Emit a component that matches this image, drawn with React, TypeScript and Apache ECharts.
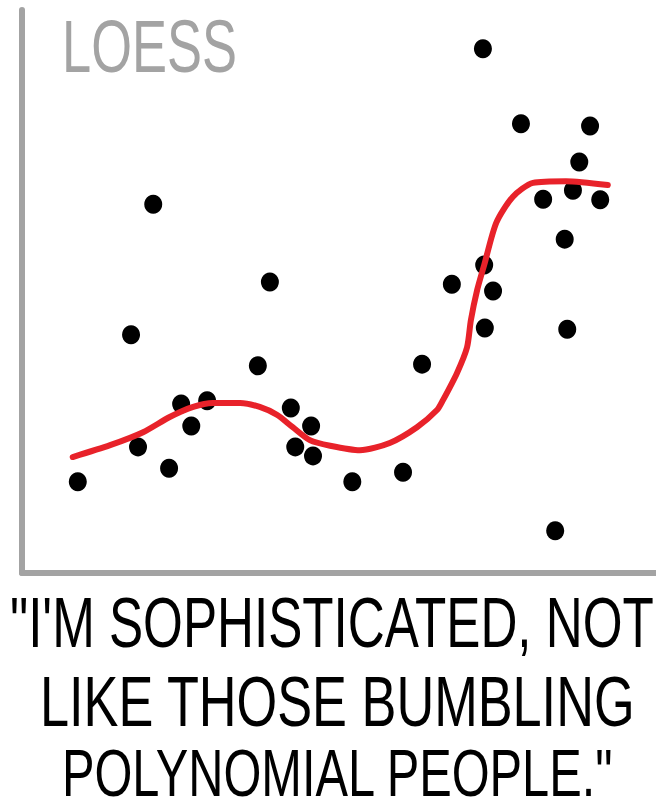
import React, { useEffect, useRef } from "react";
import * as echarts from "echarts";

// Scatter data (x, y in arbitrary 0–100 units)
const pointX = [8.8, 17.2, 18.3, 20.7, 23.2, 25.1, 26.7, 29.2, 37.2, 39.1, 42.4, 43.1, 45.6, 45.9, 52.1, 60.1, 63.1, 67.8, 72.7, 72.9, 73.0, 74.3, 78.7, 82.2, 84.1, 85.6, 86.0, 86.9, 87.9, 89.6, 91.2];
const pointY = [16.2, 42.3, 22.4, 65.5, 18.6, 30.0, 26.1, 30.6, 36.8, 51.7, 29.3, 22.4, 26.1, 20.8, 16.2, 17.9, 37.1, 51.3, 93.1, 54.7, 43.5, 50.1, 79.8, 66.4, 7.5, 59.3, 43.3, 68.0, 73.0, 79.4, 66.3];

// LOESS fit curve
const curveX = [8.0, 13.9, 19.1, 23.3, 27.0, 30.1, 34.4, 37.5, 40.2, 42.7, 45.4, 48.6, 53.3, 58.0, 62.3, 65.5, 66.4, 68.6, 70.2, 70.8, 71.8, 72.9, 74.8, 77.4, 80.6, 85.8, 92.4];
const curveY = [20.6, 22.7, 25.0, 27.7, 29.5, 30.2, 30.2, 29.5, 28.1, 25.9, 23.6, 22.6, 21.8, 23.1, 25.9, 29.0, 30.7, 35.5, 40.1, 44.9, 50.3, 54.7, 62.2, 66.8, 69.3, 69.6, 68.9];

const titleText = "LOESS";
const captionLines = [
  "\"I'M SOPHISTICATED, NOT",
  "LIKE THOSE BUMBLING",
  "POLYNOMIAL PEOPLE.\"",
];

const FONT = "Liberation Sans";
const CENTRAL = 0.3465; // central baseline offset above alphabetic baseline (em)

function measure(text: string, size: number): number {
  const c = document.createElement("canvas");
  const ctx = c.getContext("2d");
  if (!ctx) return text.length * size * 0.6;
  ctx.font = `${size}px "${FONT}"`;
  return ctx.measureText(text).width;
}

function fittedText(text: string, x: number, baseline: number, size: number, width: number, color: string) {
  const w = measure(text, size);
  return {
    type: "text",
    x,
    y: baseline - CENTRAL * size,
    scaleX: width / w,
    scaleY: 1,
    z: 10,
    style: {
      text,
      fill: color,
      fontSize: size,
      fontFamily: FONT,
      textAlign: "left",
      textVerticalAlign: "middle",
    },
  };
}

export default function App() {
  const ref = useRef<HTMLDivElement>(null);

  useEffect(() => {
    if (!ref.current) return;
    const chart = echarts.init(ref.current, null, { renderer: "svg" });
    const axisColor = "#a3a3a3";
    const option: any = {
      animation: false,
      backgroundColor: "#ffffff",
      grid: { left: 22, right: 0, top: 10, bottom: 238 },
      xAxis: {
        type: "value",
        min: 0,
        max: 100,
        axisLine: { show: true, onZero: false, lineStyle: { color: axisColor, width: 6, cap: "round" } },
        axisTick: { show: false },
        axisLabel: { show: false },
        splitLine: { show: false },
      },
      yAxis: {
        type: "value",
        min: 0,
        max: 100,
        axisLine: { show: true, onZero: false, lineStyle: { color: axisColor, width: 6, cap: "round" } },
        axisTick: { show: false },
        axisLabel: { show: false },
        splitLine: { show: false },
      },
      series: [
        {
          type: "scatter",
          data: pointX.map((x, i) => [x, pointY[i]]),
          symbol: "circle",
          symbolSize: [18, 19],
          itemStyle: { color: "#000000", opacity: 1 },
          z: 2,
        },
        {
          type: "line",
          data: curveX.map((x, i) => [x, curveY[i]]),
          showSymbol: false,
          smooth: 0.25,
          lineStyle: { color: "#e8222a", width: 6, cap: "round", join: "round" },
          z: 3,
        },
      ],
      graphic: [
        fittedText(titleText, 62, 72, 75, 175, "#a3a3a3"),
        fittedText(captionLines[0], 10, 647, 70, 644, "#000000"),
        fittedText(captionLines[1], 40, 726, 70, 596, "#000000"),
        fittedText(captionLines[2], 62, 796, 67, 552, "#000000"),
      ],
    };
    chart.setOption(option);
    return () => chart.dispose();
  }, []);

  return (
    <div
      ref={ref}
      style={{ position: "absolute", left: 0, top: 0, width: 656, height: 811, background: "#fff" }}
    />
  );
}
